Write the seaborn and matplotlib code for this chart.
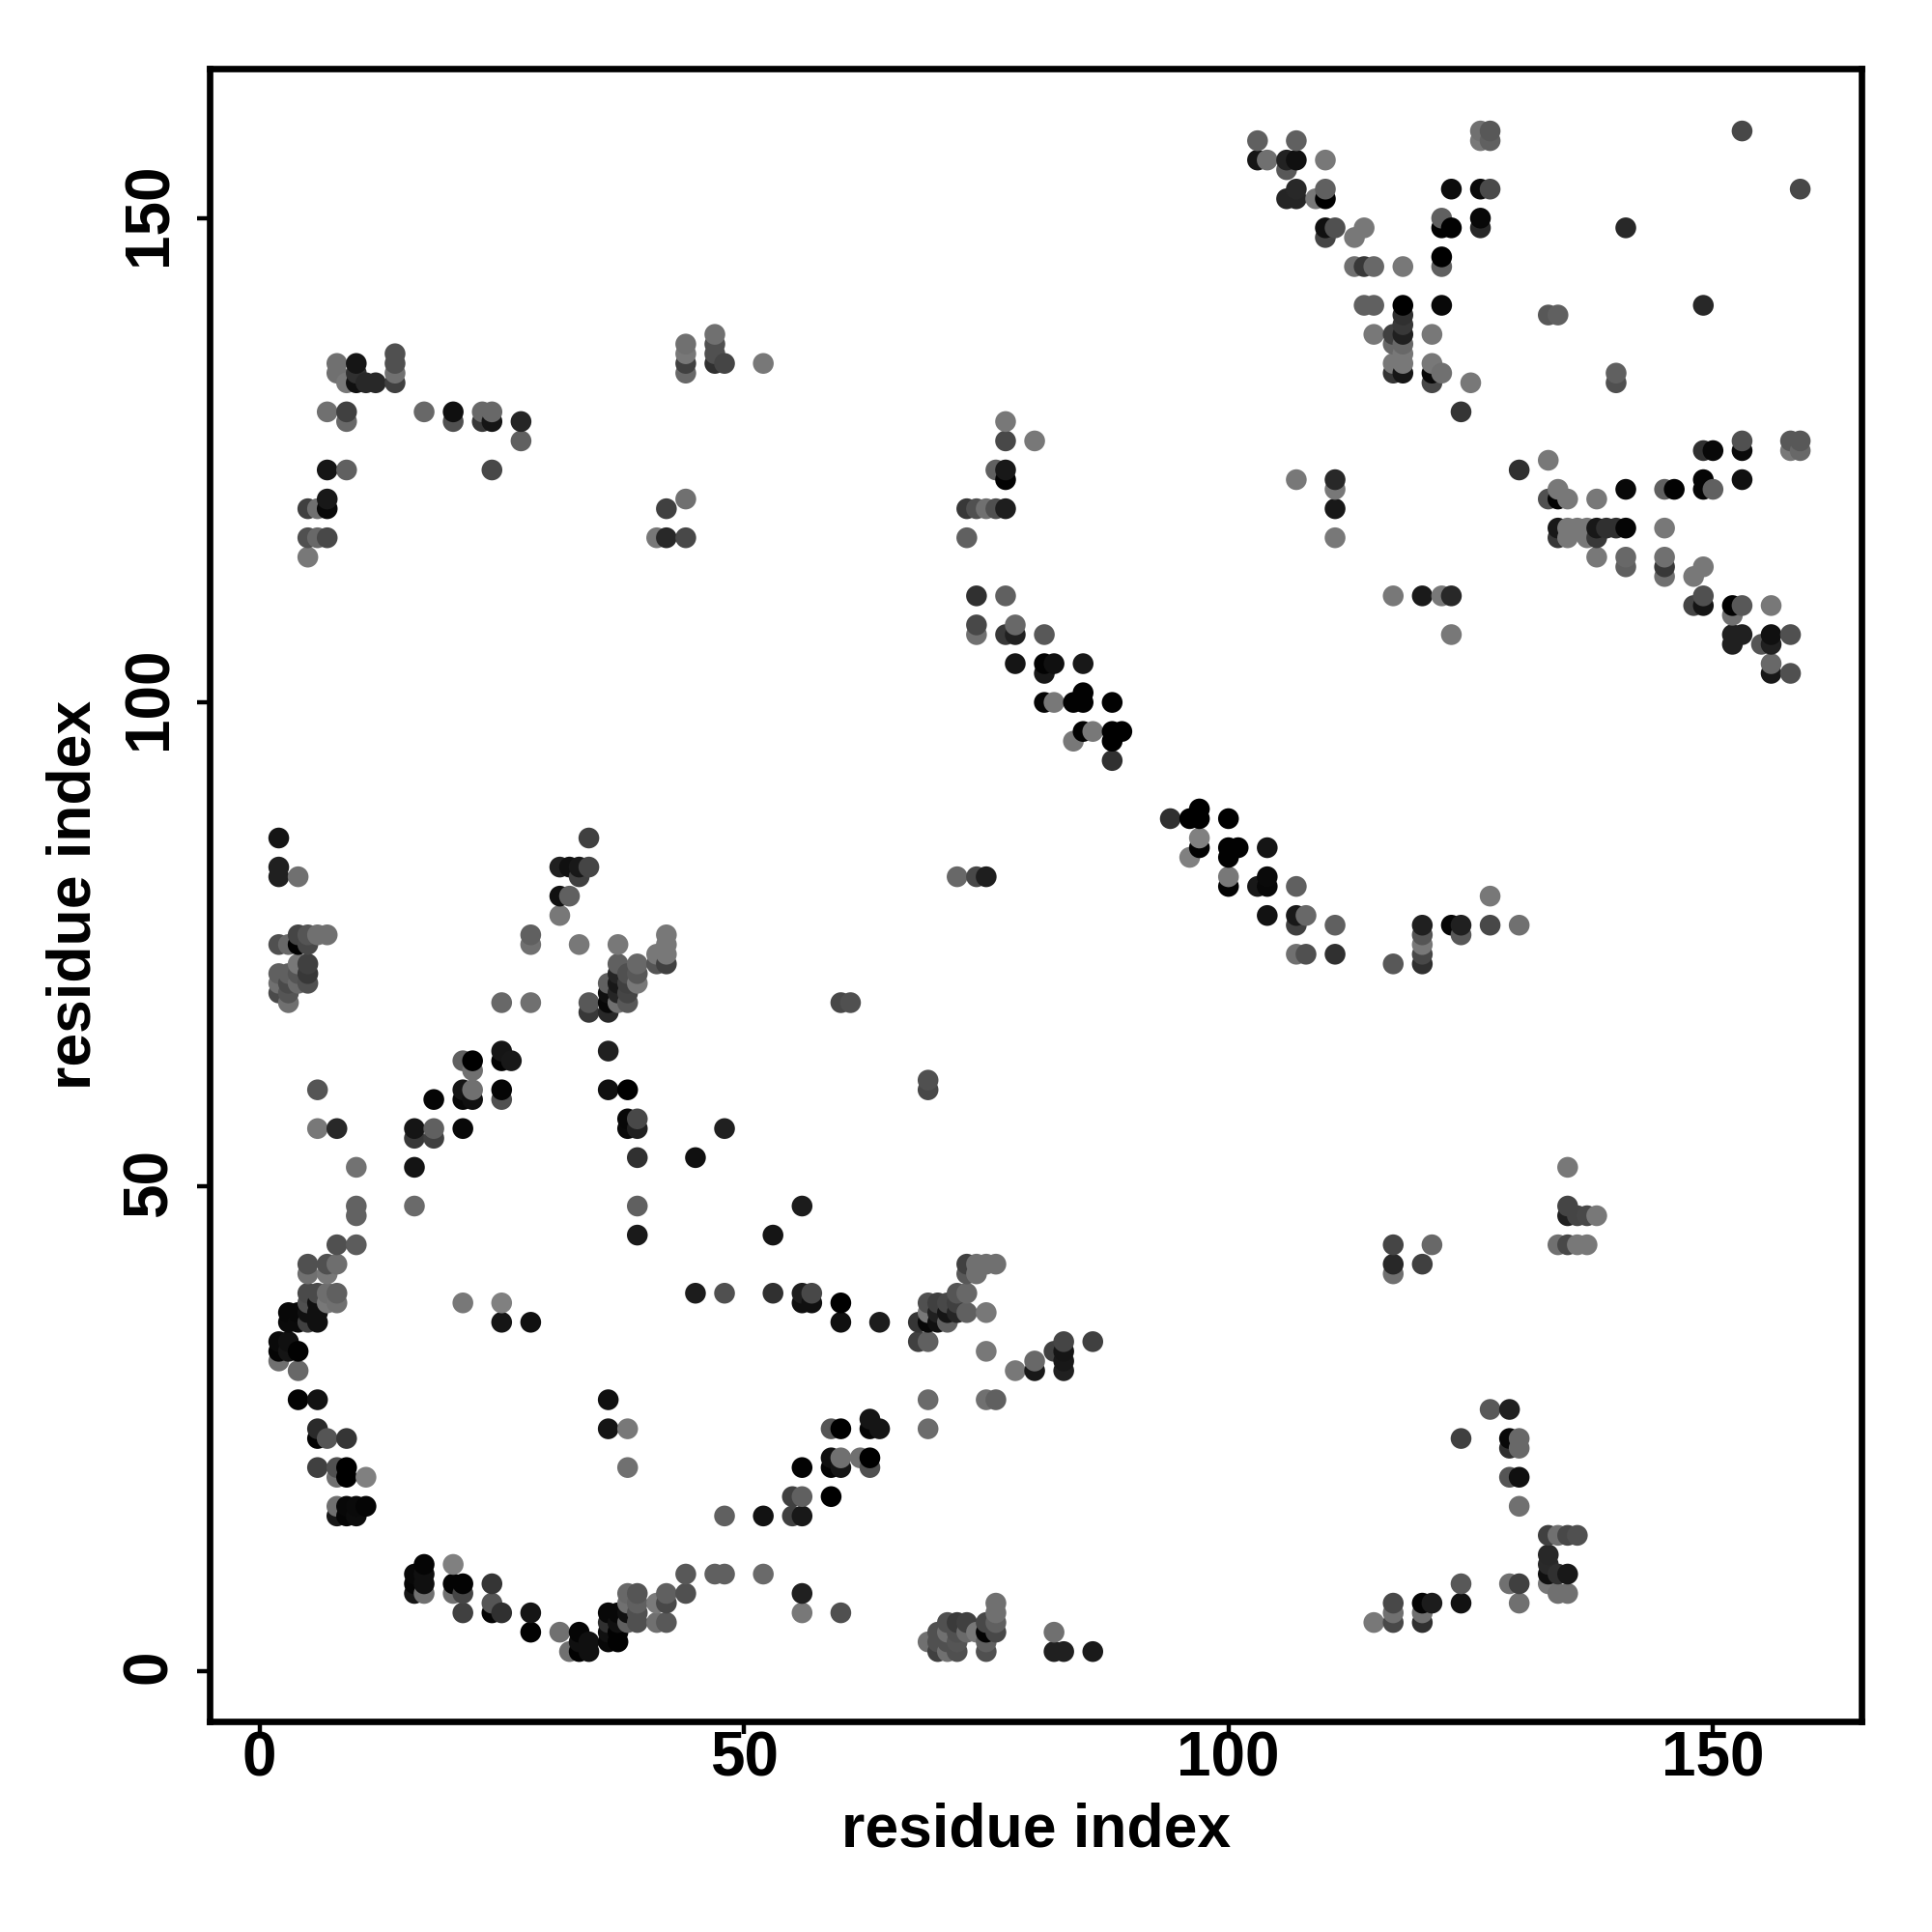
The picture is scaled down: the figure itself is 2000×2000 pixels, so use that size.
import pandas as pd
import matplotlib.pyplot as plt
import matplotlib.transforms as mtrans
import seaborn as sns

# contact points, region by region
# x = residue index, y = residue index, g = grey level (0 black .. 255 white)

# ---------- lower left ----------
x_a = [10, 16, 10, 16, 10, 8, 10, 5, 7, 8, 5, 7, 5, 6, 7, 8, 5, 6, 8, 7,
       3, 4, 5, 6, 3, 4, 5, 6, 2, 3, 2, 3, 4, 2, 4, 4, 6, 21, 25, 25, 28,
       6, 6, 7, 9, 6, 8, 9, 8, 9, 11, 8, 9, 10, 11, 8, 9, 10,
       17, 20, 16, 17, 16, 17, 20, 21, 24, 16, 17, 20, 21, 24,
       21, 24, 25, 28, 28, 31, 33, 33, 34, 32, 33, 34]
y_a = [52, 52, 48, 48, 47, 44, 44, 42, 42, 42, 41, 41, 39, 39, 39, 39, 38, 38, 38, 38,
       37, 37, 37, 37, 36, 36, 36, 36, 34, 34, 33, 33, 33, 32, 31, 28, 28, 38, 38, 36, 36,
       25, 24, 24, 24, 21, 21, 21, 20, 20, 20, 17, 17, 17, 17, 16, 16, 16,
       11, 11, 10, 10, 9, 9, 9, 9, 9, 8, 8, 8, 8, 7,
       6, 6, 6, 6, 4, 4, 4, 3, 3, 2, 2, 2]
g_a = [0x72, 0x14, 0x62, 0x6a, 0x62, 0x50, 0x5c, 0x50, 0x50, 0x6e, 0x70, 0x78, 0x4a, 0x4a, 0x6e, 0x60, 0x50, 0x10, 0x70, 0x78,
       0x08, 0x08, 0x10, 0x10, 0x0a, 0x0a, 0x40, 0x10, 0x0a, 0x10, 0x05, 0x15, 0x02, 0x70, 0x68, 0x03, 0x12, 0x78, 0x80, 0x15, 0x10,
       0x2a, 0x02, 0x55, 0x35, 0x40, 0x50, 0x00, 0x70, 0x00, 0x80, 0x70, 0x08, 0x0a, 0x05, 0x18, 0x05, 0x0c,
       0x05, 0x80, 0x08, 0x10, 0x05, 0x10, 0x03, 0x03, 0x35, 0x15, 0x70, 0x70, 0x45, 0x55,
       0x40, 0x05, 0x30, 0x15, 0x02, 0x70, 0x05, 0x10, 0x10, 0x70, 0x02, 0x10]

# ---------- lower middle ----------
x_b = [39, 45, 39, 56, 39, 53, 45, 48, 53, 56, 57, 56, 57, 60, 60, 64,
       68, 69, 70, 71, 69, 70, 71, 72, 72, 73, 69, 70, 71, 72, 73, 75,
       73, 74, 75, 76, 73, 74, 68, 69, 75, 78, 80, 80, 83, 83, 82, 83, 83, 86,
       69, 75, 76, 69, 36, 36, 38, 38, 63, 59, 60, 63, 64,
       59, 60, 62, 63, 56, 59, 60, 63, 55, 56, 59, 48, 52, 55, 56,
       44, 47, 48, 52, 44, 56, 56, 60, 38, 39, 42, 38, 39, 41, 42,
       36, 37, 38, 39, 36, 37, 38, 39, 41, 42, 36, 37, 36, 37,
       76, 76, 71, 72, 73, 75, 76, 70, 71, 72, 73, 74, 75, 76,
       69, 70, 71, 72, 75, 70, 71, 72, 75, 82, 82, 83, 86]
y_b = [53, 53, 48, 48, 45, 45, 39, 39, 39, 39, 39, 38, 38, 38, 36, 36,
       36, 36, 36, 36, 38, 38, 38, 38, 39, 39, 37, 37, 37, 37, 37, 37,
       42, 42, 42, 42, 41, 41, 34, 34, 33, 31, 31, 32, 32, 31, 33, 33, 34, 34,
       28, 28, 28, 25, 28, 25, 25, 21, 26, 25, 25, 25, 25,
       22, 22, 22, 22, 21, 21, 21, 21, 18, 18, 18, 16, 16, 16, 16,
       10, 10, 10, 10, 8, 8, 6, 6, 8, 8, 8, 7, 7, 7, 7,
       6, 6, 6, 6, 5, 5, 5, 5, 5, 5, 4, 4, 3, 3,
       7, 6, 5, 5, 5, 5, 5, 4, 4, 4, 4, 4, 4, 4,
       3, 3, 3, 3, 3, 2, 2, 2, 2, 4, 2, 2, 2]
g_b = [0x30, 0x10, 0x60, 0x1c, 0x1a, 0x15, 0x1c, 0x50, 0x30, 0x1e, 0x48, 0x10, 0x10, 0x00, 0x10, 0x1c,
       0x35, 0x08, 0x10, 0x60, 0x50, 0x40, 0x48, 0x40, 0x55, 0x68, 0x78, 0x20, 0x15, 0x25, 0x60, 0x78,
       0x40, 0x70, 0x70, 0x70, 0x58, 0x70, 0x40, 0x60, 0x78, 0x78, 0x18, 0x68, 0x18, 0x20, 0x40, 0x15, 0x45, 0x40,
       0x6a, 0x70, 0x60, 0x6c, 0x10, 0x15, 0x78, 0x70, 0x15, 0x55, 0x00, 0x05, 0x15,
       0x10, 0x70, 0x70, 0x00, 0x03, 0x05, 0x15, 0x50, 0x40, 0x60, 0x00, 0x60, 0x12, 0x40, 0x18,
       0x58, 0x60, 0x60, 0x6a, 0x50, 0x20, 0x78, 0x50, 0x68, 0x55, 0x60, 0x70, 0x60, 0x7a, 0x48,
       0x08, 0x08, 0x10, 0x50, 0x30, 0x10, 0x60, 0x50, 0x70, 0x58, 0x10, 0x02, 0x08, 0x02,
       0x70, 0x70, 0x50, 0x3a, 0x40, 0x48, 0x60, 0x50, 0x70, 0x50, 0x6a, 0x78, 0x03, 0x48,
       0x70, 0x50, 0x50, 0x55, 0x60, 0x40, 0x70, 0x50, 0x50, 0x70, 0x20, 0x20, 0x1a]

# ---------- middle left ----------
x_c = [2, 2, 2, 4, 4, 5, 6, 7, 2, 3, 4, 5, 4, 5, 2, 3, 4, 5, 2, 3, 4, 5, 2, 3, 3,
       34, 31, 32, 33, 34, 33, 31, 32, 31, 28, 28, 33, 37,
       42, 42, 41, 42, 41, 42, 37, 39, 37, 38, 39, 36, 37, 38, 39, 36, 37, 38,
       34, 36, 37, 38, 34, 36, 25, 28, 25, 36, 21, 22, 25, 26, 22,
       6, 21, 22, 25, 36, 38, 18, 21, 22, 25, 38, 39,
       6, 8, 16, 18, 21, 38, 39, 16, 18, 39, 45, 48, 72, 74, 75, 60, 61, 69, 69]
y_c = [86, 83, 82, 82, 76, 76, 76, 76, 75, 75, 75, 75, 73, 73, 72, 72, 72, 72, 71, 71, 71, 71, 70, 70, 69,
       86, 83, 83, 83, 83, 82, 80, 80, 78, 76, 75, 75, 75,
       76, 75, 74, 74, 73, 73, 73, 73, 72, 72, 72, 71, 71, 71, 71, 70, 70, 70,
       69, 69, 69, 69, 68, 68, 69, 69, 64, 64, 63, 63, 63, 63, 62,
       60, 60, 60, 60, 60, 60, 59, 59, 59, 59, 57, 57,
       56, 56, 56, 56, 56, 56, 56, 55, 55, 53, 53, 56, 82, 82, 82, 69, 69, 61, 60]
g_c = [0x15, 0x20, 0x20, 0x70, 0x45, 0x55, 0x70, 0x70, 0x50, 0x68, 0x02, 0x48, 0x78, 0x40, 0x60, 0x60, 0x55, 0x38, 0x70, 0x4a, 0x6a, 0x50, 0x4a, 0x55, 0x70,
       0x40, 0x20, 0x10, 0x18, 0x45, 0x40, 0x10, 0x60, 0x78, 0x60, 0x70, 0x78, 0x78,
       0x78, 0x78, 0x78, 0x78, 0x55, 0x40, 0x60, 0x68, 0x25, 0x50, 0x58, 0x60, 0x18, 0x40, 0x78, 0x10, 0x25, 0x45,
       0x58, 0x08, 0x70, 0x58, 0x38, 0x28, 0x68, 0x70, 0x15, 0x20, 0x60, 0x00, 0x02, 0x18, 0x70,
       0x55, 0x15, 0x70, 0x05, 0x10, 0x00, 0x05, 0x08, 0x10, 0x50, 0x08, 0x48,
       0x78, 0x28, 0x15, 0x60, 0x08, 0x0a, 0x20, 0x38, 0x40, 0x2c, 0x18, 0x20, 0x68, 0x48, 0x1e, 0x48, 0x50, 0x50, 0x48]

# ---------- upper left ----------
x_d = [8, 8, 9, 10, 10, 10, 11, 12, 14, 14, 14, 14,
       7, 9, 17, 20, 23, 24, 9, 20, 23, 24, 27, 27,
       7, 9, 24, 7, 44, 5, 6, 7, 42, 5, 6, 7, 41, 42, 44, 5,
       44, 44, 44, 44, 47, 47, 47, 47, 48, 52]
y_d = [135, 134, 133, 135, 134, 133, 133, 133, 136, 135, 134, 133,
       130, 130, 130, 130, 130, 130, 129, 129, 129, 129, 129, 127,
       124, 124, 124, 121, 121, 120, 120, 120, 120, 117, 117, 117, 117, 117, 117, 115,
       137, 136, 135, 134, 138, 137, 136, 135, 135, 135]
g_d = [0x70, 0x70, 0x78, 0x15, 0x30, 0x10, 0x28, 0x28, 0x50, 0x50, 0x70, 0x40,
       0x70, 0x40, 0x68, 0x10, 0x68, 0x68, 0x68, 0x50, 0x38, 0x15, 0x25, 0x60,
       0x15, 0x60, 0x48, 0x18, 0x70, 0x40, 0x70, 0x08, 0x40, 0x50, 0x68, 0x48, 0x78, 0x28, 0x48, 0x78,
       0x70, 0x78, 0x40, 0x68, 0x70, 0x50, 0x50, 0x30, 0x45, 0x78]

# ---------- centre diagonal ----------
x_e = [77, 77, 80, 76, 77, 77, 73, 74, 75, 76, 77, 73,
       74, 77, 74, 78, 74, 77, 78, 81, 78, 81, 82, 85, 81,
       85, 81, 82, 84, 85, 88, 85, 86, 88, 89, 84, 88, 88,
       97, 94, 96, 97, 100, 97, 97, 96, 100, 100, 100, 100, 101,
       104, 104, 104, 103, 107, 104, 107, 108, 107, 111, 107, 108, 111,
       120, 120, 120, 120, 120, 117, 123, 124, 124, 127, 127, 130]
y_e = [129, 127, 127, 124, 124, 123, 120, 120, 120, 120, 120, 117,
       111, 111, 108, 108, 107, 107, 107, 107, 104, 104, 104, 104, 103,
       101, 100, 100, 100, 100, 100, 97, 97, 97, 97, 96, 96, 94,
       89, 88, 88, 88, 88, 86, 85, 84, 85, 84, 82, 81, 85,
       85, 82, 81, 81, 81, 78, 78, 78, 77, 77, 74, 74, 74,
       77, 76, 75, 74, 73, 73, 77, 77, 76, 80, 77, 77]
g_e = [0x78, 0x48, 0x78, 0x60, 0x18, 0x02, 0x38, 0x50, 0x70, 0x50, 0x1e, 0x60,
       0x30, 0x60, 0x48, 0x68, 0x70, 0x38, 0x20, 0x58, 0x15, 0x03, 0x10, 0x18, 0x18,
       0x02, 0x05, 0x78, 0x02, 0x02, 0x02, 0x02, 0x78, 0x00, 0x00, 0x78, 0x00, 0x30,
       0x00, 0x30, 0x00, 0x00, 0x00, 0x80, 0x02, 0x80, 0x02, 0x02, 0x78, 0x02, 0x02,
       0x15, 0x0a, 0x08, 0x18, 0x60, 0x12, 0x18, 0x68, 0x40, 0x60, 0x70, 0x50, 0x30,
       0x20, 0x55, 0x78, 0x48, 0x30, 0x58, 0x05, 0x20, 0x58, 0x78, 0x48, 0x70]

# ---------- top right band ----------
x_f = [103, 107, 103, 104, 106, 107, 110, 106,
       107, 110, 106, 107, 109, 110, 110, 111, 114, 110, 113,
       113, 114, 115, 118, 122, 122, 114, 115, 118, 122,
       118, 118, 118, 118, 118, 118, 118,
       115, 117, 121, 117, 117, 121, 117, 121, 122, 121, 125, 124,
       126, 126, 127, 127, 123, 126, 127, 126, 126, 122, 122, 123,
       153, 159, 141, 149, 133, 134, 140, 140]
y_f = [158, 158, 156, 156, 156, 156, 156, 155,
       153, 153, 152, 152, 152, 152, 149, 149, 149, 148, 148,
       145, 145, 145, 145, 145, 146, 141, 141, 141, 141,
       140, 139, 138, 137, 136, 135, 134,
       138, 138, 138, 137, 135, 135, 134, 134, 134, 133, 133, 130,
       159, 158, 159, 158, 153, 153, 153, 150, 149, 150, 149, 149,
       159, 153, 149, 141, 140, 140, 134, 133]
g_f = [0x60, 0x60, 0x15, 0x70, 0x22, 0x10, 0x78, 0x58,
       0x28, 0x60, 0x25, 0x25, 0x78, 0x00, 0x10, 0x50, 0x78, 0x45, 0x78,
       0x70, 0x38, 0x68, 0x78, 0x60, 0x00, 0x60, 0x60, 0x00, 0x08,
       0x30, 0x38, 0x20, 0x68, 0x78, 0x78, 0x15,
       0x78, 0x40, 0x78, 0x68, 0x78, 0x78, 0x35, 0x08, 0x70, 0x48, 0x78, 0x35,
       0x70, 0x78, 0x58, 0x60, 0x0c, 0x0a, 0x4a, 0x08, 0x28, 0x60, 0x02, 0x02,
       0x48, 0x48, 0x28, 0x28, 0x58, 0x60, 0x60, 0x50]

# ---------- right band ----------
x_g = [153, 158, 159, 149, 150, 153, 158, 159, 133, 130, 149, 153,
       134, 141, 145, 146, 149, 150, 133, 134, 135, 138,
       134, 135, 136, 137, 138, 139, 140, 141, 145, 134, 135, 137, 138,
       138, 141, 145, 141, 145, 149, 145, 148,
       149, 148, 149, 152, 153, 156, 152,
       152, 153, 156, 158, 152, 155, 156, 156, 156, 158,
       107, 111, 111, 111, 111, 117, 120, 122, 123, 123]
y_g = [127, 127, 127, 126, 126, 126, 126, 126, 125, 124, 123, 123,
       122, 122, 122, 122, 122, 122, 121, 121, 121, 121,
       118, 118, 118, 118, 118, 118, 118, 118, 118, 117, 117, 117, 117,
       115, 115, 115, 114, 114, 114, 113, 113,
       111, 110, 110, 110, 110, 110, 109,
       107, 107, 107, 107, 106, 106, 106, 104, 103, 103,
       123, 123, 122, 120, 117, 111, 111, 111, 111, 107]
g_g = [0x50, 0x58, 0x58, 0x30, 0x08, 0x0a, 0x78, 0x68, 0x78, 0x30, 0x05, 0x10,
       0x78, 0x08, 0x60, 0x02, 0x05, 0x60, 0x50, 0x03, 0x78, 0x78,
       0x18, 0x78, 0x78, 0x78, 0x18, 0x30, 0x30, 0x05, 0x78, 0x38, 0x78, 0x78, 0x38,
       0x78, 0x68, 0x70, 0x60, 0x38, 0x78, 0x70, 0x78,
       0x50, 0x45, 0x15, 0x02, 0x58, 0x78, 0x70,
       0x20, 0x20, 0x10, 0x50, 0x20, 0x55, 0x20, 0x68, 0x18, 0x50,
       0x78, 0x28, 0x78, 0x18, 0x78, 0x78, 0x1a, 0x78, 0x28, 0x78]

# ---------- lower right ----------
x_h = [135, 135, 135, 136, 137, 138, 134, 135, 136, 137, 117, 121, 117, 120, 117,
       127, 129, 124, 129, 130, 129, 130, 129, 130, 130,
       133, 134, 135, 136, 133, 133, 133, 134, 135, 133, 134, 135,
       124, 129, 130, 117, 120, 121, 124, 130, 117, 120, 115, 117, 120]
y_h = [52, 48, 47, 47, 47, 47, 44, 44, 44, 44, 44, 44, 42, 42, 41,
       27, 27, 24, 24, 24, 23, 23, 20, 20, 17,
       14, 14, 14, 14, 12, 11, 10, 10, 10, 9, 8, 8,
       9, 9, 9, 7, 7, 7, 7, 7, 6, 6, 5, 5, 5]
g_h = [0x78, 0x45, 0x20, 0x45, 0x48, 0x78, 0x70, 0x48, 0x78, 0x78, 0x45, 0x68, 0x28, 0x40, 0x70,
       0x58, 0x20, 0x40, 0x08, 0x68, 0x30, 0x68, 0x55, 0x10, 0x70,
       0x40, 0x70, 0x48, 0x50, 0x28, 0x2a, 0x10, 0x30, 0x18, 0x78, 0x70, 0x70,
       0x58, 0x70, 0x40, 0x48, 0x05, 0x1c, 0x12, 0x70, 0x70, 0x70, 0x78, 0x48, 0x30]

ticks = [0, 50, 100, 150]

df = pd.DataFrame({
    'x': x_a + x_b + x_c + x_d + x_e + x_f + x_g + x_h,
    'y': y_a + y_b + y_c + y_d + y_e + y_f + y_g + y_h,
    'g': g_a + g_b + g_c + g_d + g_e + g_f + g_g + g_h,
})
# the original plots by increasing x then y, later points sit on top
df = df.drop_duplicates(['x', 'y']).sort_values(['x', 'y'])

sns.set_style('ticks')
plt.rcParams['font.family'] = ['Liberation Sans', 'DejaVu Sans']
plt.rcParams['text.color'] = 'black'
plt.rcParams['axes.labelcolor'] = 'black'

fig = plt.figure(figsize=(10, 10), dpi=200)
ax = fig.add_axes([170 / 1568, 1 - 1397 / 1568, 1341 / 1568, 1341 / 1568])

sns.scatterplot(data=df, x='x', y='y', hue='g', palette='gray', hue_norm=(0, 255),
                s=60, linewidth=0, legend=False, ax=ax)

ax.set_xlim(-5.15, 165.35)
ax.set_ylim(-5.2, 165.4)
ax.set_xticks(ticks)
ax.set_yticks(ticks)
ax.tick_params(axis='both', length=4.8, width=1.6, labelsize=23, color='black',
               labelcolor='black')
ax.tick_params(axis='x', pad=-1.5)
ax.tick_params(axis='y', pad=6.5)

# nudge the rotated y labels up a little
nudge = mtrans.ScaledTranslation(0, 1.5 / 72, fig.dpi_scale_trans)
for lab in ax.get_xticklabels() + ax.get_yticklabels():
    lab.set_fontweight('bold')
for lab in ax.get_yticklabels():
    lab.set_rotation(90)
    lab.set_va('center')
    lab.set_transform(lab.get_transform() + nudge)

for spine in ax.spines.values():
    spine.set_visible(True)
    spine.set_linewidth(2.4)
    spine.set_color('black')

ax.set_xlabel('residue index', fontsize=22.5, fontweight='bold', va='center')
ax.set_ylabel('residue index', fontsize=22.5, fontweight='bold', va='center')
ax.xaxis.set_label_coords(0.5, -0.066)
ax.yaxis.set_label_coords(-0.0815, 0.5)

fig.savefig('out.png', dpi=200)
